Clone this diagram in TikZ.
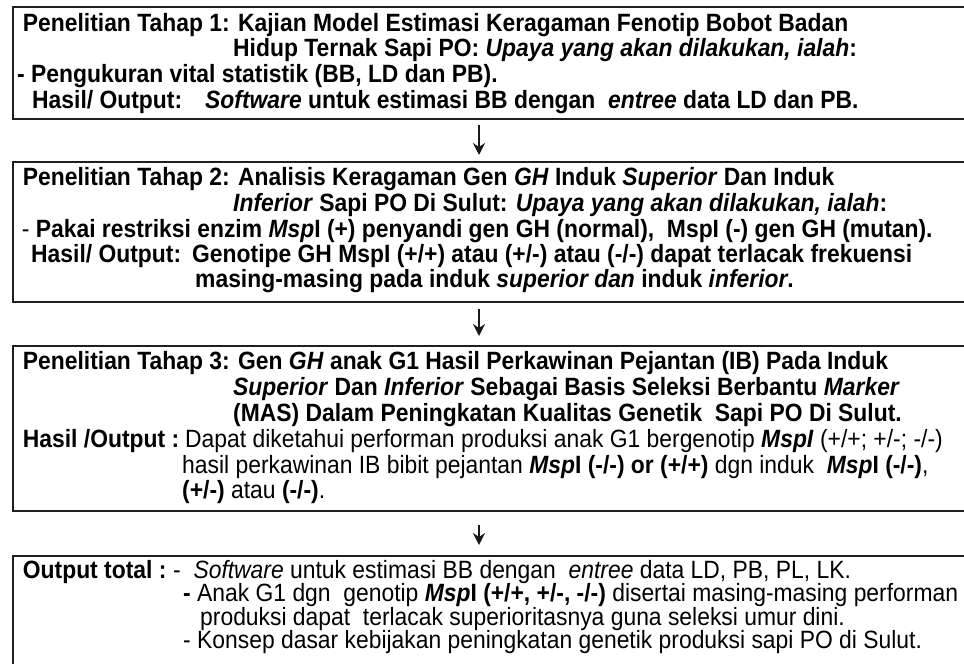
\documentclass[tikz,border=0pt]{standalone}
\usepackage{fontspec}
\setmainfont{Liberation Sans}[FakeStretch=0.915]
\usetikzlibrary{arrows.meta}
\begin{document}
\begin{tikzpicture}[x=1pt,y=-1pt,
  boxst/.style={draw=black!88, line width=2.4pt, fill=white, rectangle, inner sep=0pt, anchor=north west, minimum width=966pt},
  txt/.style={anchor=base west, inner sep=0pt, font=\fontsize{25}{28}\selectfont},
  txtb/.style={txt, font=\fontsize{25}{28}\selectfont\bfseries},
  arr/.style={line width=2.4pt, draw=black!90, -{Stealth[length=12pt,width=12pt,inset=4pt]}}]
\useasboundingbox (0,0) rectangle (964,664);
\clip (0,0) rectangle (964,664);
\fill[white] (0,0) rectangle (964,664);
% boxes
\node[boxst, minimum height=112pt] (box1) at (12,6) {};
\node[boxst, minimum height=140pt] (box2) at (12,161) {};
\node[boxst, minimum height=165pt] (box3) at (12,345) {};
\node[boxst, minimum height=130pt] (box4) at (12,555) {};
% arrows
\coordinate (ax) at (479,0);
\draw[arr, shorten <=5pt, shorten >=6pt] (box1.south -| ax) -- (box2.north -| ax);
\draw[arr, shorten <=6pt, shorten >=9pt] (box2.south -| ax) -- (box3.north -| ax);
\draw[arr, shorten <=13pt, shorten >=10pt] (box3.south -| ax) -- (box4.north -| ax);
% box 1
\node[txtb] (t1a) at (22.7,31.5) {Penelitian Tahap 1: Kajian Model Estimasi Keragaman Fenotip Bobot Badan};
\node[txtb] (t1b) at (233,56.5) {Hidup Ternak Sapi PO: \textit{Upaya yang akan dilakukan, ialah}:};
\node[txtb] (t1c) at (17,82) {- Pengukuran vital statistik (BB, LD dan PB).};
\node[txtb] (t1d) at (32,108) {Hasil/ Output:};
\node[txtb] (t1e) at (205,108) {\textit{Software} untuk estimasi BB dengan \ \textit{entree} data LD dan PB.};
% box 2
\node[txtb] (t2a) at (22.7,185) {Penelitian Tahap 2: Analisis Keragaman Gen \textit{GH} Induk \textit{Superior} Dan Induk};
\node[txtb] (t2b) at (233,211) {\textit{Inferior} Sapi PO Di Sulut: \textit{Upaya yang akan dilakukan, ialah}:};
\node[txtb] (t2c) at (21.7,237) {\textmd{-} Pakai restriksi enzim \textit{Msp}I (+) penyandi gen GH (normal), \ MspI (-) gen GH (mutan).};
\node[txtb] (t2d) at (31,262) {Hasil/ Output:};
\node[txtb] (t2e) at (192,262) {Genotipe GH MspI (+/+) atau (+/-) atau (-/-) dapat terlacak frekuensi};
\node[txtb] (t2f) at (195,287) {masing-masing pada induk \textit{superior dan} induk \textit{inferior}.};
% box 3
\node[txtb] (t3a) at (22.7,369) {Penelitian Tahap 3: Gen \textit{GH} anak G1 Hasil Perkawinan Pejantan (IB) Pada Induk};
\node[txtb] (t3b) at (233,395) {\textit{Superior} Dan \textit{Inferior} Sebagai Basis Seleksi Berbantu \textit{Marker}};
\node[txtb] (t3c) at (233,421) {(MAS) Dalam Peningkatan Kualitas Genetik \ Sapi PO Di Sulut.};
\node[txtb] (t3d) at (22.7,447) {Hasil /Output :};
\node[txt] (t3e) at (185,447) {Dapat diketahui performan produksi anak G1 bergenotip \textbf{\textit{MspI}} (+/+; +/-; -/-)};
\node[txt] (t3f) at (182,473) {hasil perkawinan IB bibit pejantan \textbf{\textit{Msp}I (-/-) or (+/+)} dgn induk \ \textbf{\textit{Msp}I (-/-)},};
\node[txt] (t3g) at (182,498) {\textbf{(+/-)} atau \textbf{(-/-)}.};
% box 4
\node[txtb] (t4a) at (22.7,578) {Output total :};
\node[txt] (t4b) at (173,578) {- \ \textit{Software} untuk estimasi BB dengan \ \textit{entree} data LD, PB, PL, LK.};
\node[txt] (t4c) at (183,601) {\textbf{-} Anak G1 dgn \ genotip \textbf{\textit{Msp}I (+/+, +/-, -/-)} disertai masing-masing performan};
\node[txt] (t4d) at (200,625) {produksi dapat \ terlacak superioritasnya guna seleksi umur dini.};
\node[txt] (t4e) at (183,648) {- Konsep dasar kebijakan peningkatan genetik produksi sapi PO di Sulut.};
\end{tikzpicture}
\end{document}
